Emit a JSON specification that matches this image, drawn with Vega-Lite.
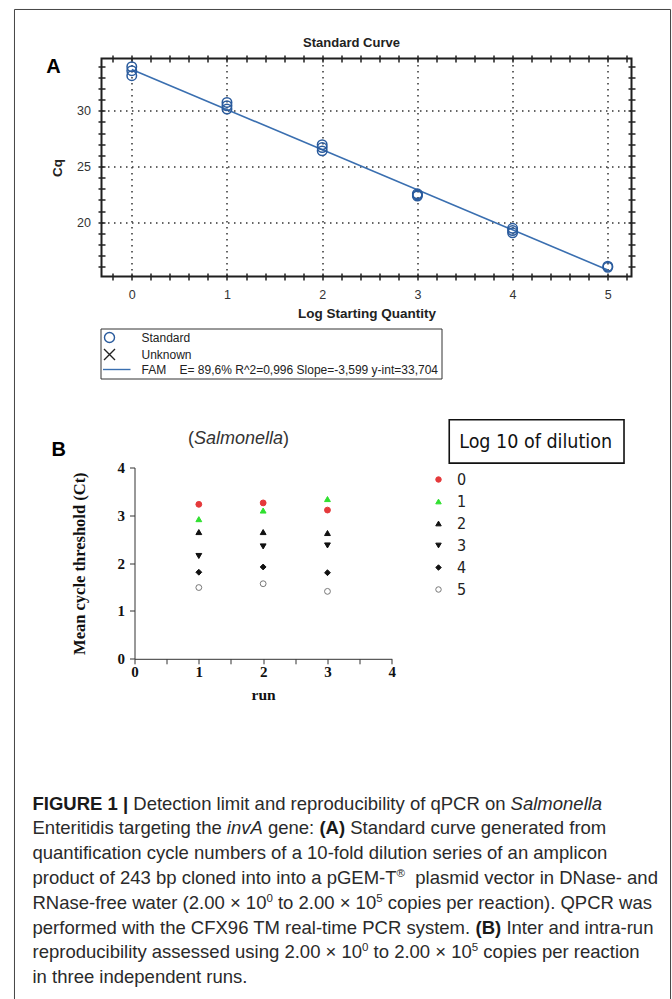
{
  "$schema": "https://vega.github.io/schema/vega-lite/v6.json",
  "background": "white",
  "padding": {"left": 12.5, "top": 7.5, "right": 2.5, "bottom": 0},
  "autosize": {"type": "pad"},
  "config": {"view": {"stroke": null}},
  "datasets": {
    "standards": [
      {"lsq": 0, "cq": 33.95, "series": "Standard"},
      {"lsq": 0, "cq": 33.6, "series": "Standard"},
      {"lsq": 0, "cq": 33.15, "series": "Standard"},
      {"lsq": 1, "cq": 30.75, "series": "Standard"},
      {"lsq": 1, "cq": 30.45, "series": "Standard"},
      {"lsq": 1, "cq": 30.15, "series": "Standard"},
      {"lsq": 2, "cq": 26.95, "series": "Standard"},
      {"lsq": 2, "cq": 26.7, "series": "Standard"},
      {"lsq": 2, "cq": 26.4, "series": "Standard"},
      {"lsq": 3, "cq": 22.55, "series": "Standard"},
      {"lsq": 3, "cq": 22.45, "series": "Standard"},
      {"lsq": 3, "cq": 22.35, "series": "Standard"},
      {"lsq": 4, "cq": 19.45, "series": "Standard"},
      {"lsq": 4, "cq": 19.25, "series": "Standard"},
      {"lsq": 4, "cq": 19.05, "series": "Standard"},
      {"lsq": 5, "cq": 16.05, "series": "Standard"},
      {"lsq": 5, "cq": 15.95, "series": "Standard"}
    ],
    "fit": [
      {"lsq": 0, "cq": 33.704},
      {"lsq": 5, "cq": 15.709}
    ],
    "runs": [
      {"run": 1, "dilution": "0", "ct": 3.23},
      {"run": 1, "dilution": "1", "ct": 2.92},
      {"run": 1, "dilution": "2", "ct": 2.65},
      {"run": 1, "dilution": "3", "ct": 2.15},
      {"run": 1, "dilution": "4", "ct": 1.81},
      {"run": 1, "dilution": "5", "ct": 1.49},
      {"run": 2, "dilution": "0", "ct": 3.26},
      {"run": 2, "dilution": "1", "ct": 3.1},
      {"run": 2, "dilution": "2", "ct": 2.65},
      {"run": 2, "dilution": "3", "ct": 2.35},
      {"run": 2, "dilution": "4", "ct": 1.92},
      {"run": 2, "dilution": "5", "ct": 1.57},
      {"run": 3, "dilution": "0", "ct": 3.11},
      {"run": 3, "dilution": "1", "ct": 3.34},
      {"run": 3, "dilution": "2", "ct": 2.63},
      {"run": 3, "dilution": "3", "ct": 2.37},
      {"run": 3, "dilution": "4", "ct": 1.8},
      {"run": 3, "dilution": "5", "ct": 1.41}
    ],
    "caption": [
      {"line": 1, "at": 0, "kind": "b", "text": "FIGURE 1 |"},
      {"line": 1, "at": 5.448, "kind": "r", "text": "Detection limit and reproducibility of qPCR on"},
      {"line": 1, "at": 25.844, "kind": "i", "text": "Salmonella"},
      {"line": 2, "at": 0, "kind": "r", "text": "Enteritidis targeting the"},
      {"line": 2, "at": 10.505, "kind": "i", "text": "invA"},
      {"line": 2, "at": 12.728, "kind": "r", "text": "gene:"},
      {"line": 2, "at": 15.508, "kind": "b", "text": "(A)"},
      {"line": 2, "at": 17.174, "kind": "r", "text": "Standard curve generated from"},
      {"line": 3, "at": 0, "kind": "r", "text": "quantification cycle numbers of a 10-fold dilution series of an amplicon"},
      {"line": 4, "at": 0, "kind": "r", "text": "product of 243 bp cloned into into a pGEM-T"},
      {"line": 4, "at": 19.677, "kind": "s", "text": "®"},
      {"line": 4, "at": 20.69, "kind": "r", "text": "plasmid vector in DNase- and"},
      {"line": 5, "at": 0, "kind": "r", "text": "RNase-free water (2.00 × 10"},
      {"line": 5, "at": 12.644, "kind": "s", "text": "0"},
      {"line": 5, "at": 13.267, "kind": "r", "text": "to 2.00 × 10"},
      {"line": 5, "at": 18.577, "kind": "s", "text": "5"},
      {"line": 5, "at": 19.2, "kind": "r", "text": "copies per reaction). QPCR was"},
      {"line": 6, "at": 0, "kind": "r", "text": "performed with the CFX96 TM real-time PCR system."},
      {"line": 6, "at": 23.95, "kind": "b", "text": "(B)"},
      {"line": 6, "at": 25.616, "kind": "r", "text": "Inter and intra-run"},
      {"line": 7, "at": 0, "kind": "r", "text": "reproducibility assessed using 2.00 × 10"},
      {"line": 7, "at": 17.814, "kind": "s", "text": "0"},
      {"line": 7, "at": 18.437, "kind": "r", "text": "to 2.00 × 10"},
      {"line": 7, "at": 23.747, "kind": "s", "text": "5"},
      {"line": 7, "at": 24.37, "kind": "r", "text": "copies per reaction"},
      {"line": 8, "at": 0, "kind": "r", "text": "in three independent runs."}
    ]
  },
  "concat": [
    {"width": 69, "height": 409, "data": {"values": []}, "mark": "point"},
    {
      "width": 530,
      "height": 218,
      "view": {"stroke": "#1f1f1f", "strokeWidth": 2},
      "resolve": {"axis": {"x": "independent", "y": "independent"}},
      "layer": [
        {
          "data": {"name": "fit"},
          "mark": {"type": "line", "color": "#3a6fb0", "strokeWidth": 1.6},
          "encoding": {
            "x": {
              "field": "lsq", "type": "quantitative",
              "scale": {"domain": [-0.318, 5.249], "nice": false, "zero": false},
              "axis": {
                "orient": "bottom",
                "values": [-0.2, 0, 0.2, 0.4, 0.6, 0.8, 1, 1.2, 1.4, 1.6, 1.8, 2, 2.2, 2.4, 2.6, 2.8, 3, 3.2, 3.4, 3.6, 3.8, 4, 4.2, 4.4, 4.6, 4.8, 5, 5.2],
                "labelExpr": "abs(datum.value - round(datum.value)) < 0.001 ? format(datum.value, 'd') : ''",
                "labelFlush": false, "labelOverlap": false,
                "labelFont": "Liberation Sans", "labelFontSize": 12.5, "labelColor": "#333", "labelPadding": 8,
                "domain": false, "ticks": true, "tickSize": 7, "tickWidth": 1.5, "tickColor": "#222", "offset": -3.5,
                "grid": true, "gridColor": "#333", "gridWidth": 1.5, "gridDash": [1.5, 4.5],
                "gridOpacity": {"condition": {"test": "abs(datum.value - round(datum.value)) < 0.001", "value": 1}, "value": 0},
                "title": "Log Starting Quantity", "titleFont": "Liberation Sans", "titleFontSize": 13.5, "titleFontWeight": "bold", "titleColor": "#222", "titlePadding": 6,
                "zindex": 0
              }
            },
            "y": {
              "field": "cq", "type": "quantitative",
              "scale": {"domain": [15.125, 34.69], "nice": false, "zero": false},
              "axis": {
                "orient": "left",
                "values": [16, 17, 18, 19, 20, 21, 22, 23, 24, 25, 26, 27, 28, 29, 30, 31, 32, 33, 34],
                "labelExpr": "datum.value % 5 == 0 ? format(datum.value, 'd') : ''",
                "labelFlush": false, "labelOverlap": false,
                "labelFont": "Liberation Sans", "labelFontSize": 12.5, "labelColor": "#333", "labelPadding": 7.5,
                "domain": false, "ticks": true, "tickSize": 7, "tickWidth": 1.5, "tickColor": "#222", "offset": -3.5,
                "grid": true, "gridColor": "#333", "gridWidth": 1.5, "gridDash": [1.5, 4.5],
                "gridOpacity": {"condition": {"test": "datum.value % 5 == 0", "value": 1}, "value": 0},
                "title": "Cq", "titleFont": "Liberation Sans", "titleFontSize": 13.5, "titleFontWeight": "bold", "titleColor": "#222", "titlePadding": 12,
                "zindex": 0
              }
            }
          }
        },
        {
          "data": {"name": "standards"},
          "mark": {"type": "point", "filled": false, "strokeWidth": 1.5, "size": 90, "opacity": 1},
          "encoding": {
            "x": {
              "field": "lsq", "type": "quantitative",
              "scale": {"domain": [-0.318, 5.249], "nice": false, "zero": false},
              "axis": {
                "orient": "top",
                "values": [-0.2, 0, 0.2, 0.4, 0.6, 0.8, 1, 1.2, 1.4, 1.6, 1.8, 2, 2.2, 2.4, 2.6, 2.8, 3, 3.2, 3.4, 3.6, 3.8, 4, 4.2, 4.4, 4.6, 4.8, 5, 5.2],
                "labels": false, "domain": false, "grid": false, "tickSize": 7, "tickWidth": 1.5, "tickColor": "#222", "offset": -3.5, "title": null
              }
            },
            "y": {
              "field": "cq", "type": "quantitative",
              "scale": {"domain": [15.125, 34.69], "nice": false, "zero": false},
              "axis": {
                "orient": "right",
                "values": [16, 17, 18, 19, 20, 21, 22, 23, 24, 25, 26, 27, 28, 29, 30, 31, 32, 33, 34],
                "labels": false, "domain": false, "grid": false, "tickSize": 7, "tickWidth": 1.5, "tickColor": "#222", "offset": -3.5, "title": null
              }
            },
            "shape": {
              "field": "series", "type": "nominal",
              "scale": {
                "domain": ["Standard", "Unknown", "FAM\u00a0\u00a0\u00a0\u00a0E= 89,6% R^2=0,996 Slope=-3,599 y-int=33,704"],
                "range": ["circle", "M-1.1,-1.1L1.1,1.1M-1.1,1.1L1.1,-1.1", "M-1.3,0L4.2,0"]
              },
              "legend": {
                "orient": "none", "legendX": -1, "legendY": 270, "title": null, "direction": "vertical",
                "strokeColor": "#333", "fillColor": "#ffffff", "padding": 3,
                "symbolSize": 100, "symbolStrokeWidth": 1.4,
                "labelFont": "Liberation Sans", "labelFontSize": 12, "labelColor": "#222", "labelOffset": 26, "labelLimit": 400,
                "rowPadding": 0
              }
            },
            "color": {
              "field": "series", "type": "nominal",
              "scale": {
                "domain": ["Standard", "Unknown", "FAM\u00a0\u00a0\u00a0\u00a0E= 89,6% R^2=0,996 Slope=-3,599 y-int=33,704"],
                "range": ["#2a5b9d", "#222222", "#3a6fb0"]
              },
              "legend": {
                "orient": "none", "legendX": -1, "legendY": 270, "title": null, "direction": "vertical",
                "strokeColor": "#333", "fillColor": "#ffffff", "padding": 3,
                "symbolSize": 100, "symbolStrokeWidth": 1.4,
                "labelFont": "Liberation Sans", "labelFontSize": 12, "labelColor": "#222", "labelOffset": 26, "labelLimit": 400,
                "rowPadding": 0
              }
            }
          }
        },
        {
          "data": {"values": [{"label": "A"}]},
          "mark": {"type": "text", "font": "Liberation Sans", "fontSize": 20, "fontWeight": "bold", "color": "#000", "align": "center", "baseline": "middle"},
          "encoding": {
            "x": {"datum": -0.822, "type": "quantitative", "scale": {"domain": [-0.318, 5.249], "nice": false, "zero": false}, "axis": null},
            "y": {"datum": 33.97, "type": "quantitative", "scale": {"domain": [15.125, 34.69], "nice": false, "zero": false}, "axis": null},
            "text": {"field": "label"}
          }
        },
        {
          "data": {"values": [{"label": "Standard Curve"}]},
          "mark": {"type": "text", "font": "Liberation Sans", "fontSize": 13, "fontWeight": "bold", "color": "#222", "align": "center", "baseline": "middle"},
          "encoding": {
            "x": {"datum": 2.308, "type": "quantitative", "scale": {"domain": [-0.318, 5.249], "nice": false, "zero": false}, "axis": null},
            "y": {"datum": 36.04, "type": "quantitative", "scale": {"domain": [15.125, 34.69], "nice": false, "zero": false}, "axis": null},
            "text": {"field": "label"}
          }
        },
        {
          "data": {"values": [{}]},
          "mark": {"type": "rect", "filled": false, "color": "#444", "strokeWidth": 1},
          "encoding": {
            "x": {"datum": -1.232, "type": "quantitative", "scale": {"domain": [-0.318, 5.249], "nice": false, "zero": false}, "axis": null},
            "x2": {"datum": 5.659},
            "y": {"datum": 39.09, "type": "quantitative", "scale": {"domain": [15.125, 34.69], "nice": false, "zero": false}, "axis": null},
            "y2": {"datum": -50.85}
          }
        }
      ]
    },
    {"width": 69, "height": 342, "data": {"values": []}, "mark": "point"},
    {
      "hconcat": [
        {"width": 32.7, "height": 1, "data": {"values": []}, "mark": "point"},
        {
          "width": 257.3,
          "height": 191.3,
          "resolve": {"axis": {"x": "independent", "y": "independent"}},
          "layer": [
            {
              "data": {"name": "runs"},
              "mark": {"type": "point", "filled": true, "size": 34, "strokeWidth": 1, "opacity": 1},
              "encoding": {
                "x": {
                  "field": "run", "type": "quantitative",
                  "scale": {"domain": [0, 4], "nice": false, "zero": false},
                  "axis": {
                    "orient": "bottom",
                    "values": [0, 0.5, 1, 1.5, 2, 2.5, 3, 3.5, 4],
                    "labelExpr": "datum.value % 1 == 0 ? format(datum.value, 'd') : ''",
                    "labelFlush": false, "labelOverlap": false,
                    "domainColor": "#333", "domainWidth": 1, "tickColor": "#333", "tickWidth": 1, "tickSize": 5,
                    "labelFont": "Liberation Serif", "labelFontSize": 15, "labelFontWeight": "bold", "labelColor": "#111", "labelPadding": 1,
                    "grid": false,
                    "title": "run", "titleFont": "Liberation Serif", "titleFontSize": 15.5, "titleFontWeight": "bold", "titleColor": "#111", "titlePadding": 8
                  }
                },
                "y": {
                  "field": "ct", "type": "quantitative",
                  "scale": {"domain": [0, 4], "nice": false, "zero": false},
                  "axis": {
                    "orient": "left",
                    "values": [0, 1, 2, 3, 4], "format": "d",
                    "labelFlush": false, "labelOverlap": false,
                    "domainColor": "#333", "domainWidth": 1, "tickColor": "#333", "tickWidth": 1, "tickSize": 5,
                    "labelFont": "Liberation Serif", "labelFontSize": 15, "labelFontWeight": "bold", "labelColor": "#111", "labelPadding": 5,
                    "grid": false,
                    "title": "Mean cycle threshold (Ct)", "titleFont": "Liberation Serif", "titleFontSize": 16.5, "titleFontWeight": "bold", "titleColor": "#111", "titlePadding": 30
                  }
                },
                "shape": {
                  "field": "dilution", "type": "nominal",
                  "scale": {"domain": ["0", "1", "2", "3", "4", "5"], "range": ["circle", "triangle-up", "triangle-up", "triangle-down", "diamond", "circle"]},
                  "legend": {
                    "orient": "none", "legendX": 329, "legendY": 4, "title": null, "padding": 0,
                    "symbolSize": 30, "symbolStrokeWidth": 1,
                    "labelFont": "Liberation Sans Narrow, DejaVu Sans Condensed, sans-serif", "labelFontSize": 16, "labelColor": "#222", "labelOffset": 10.5,
                    "rowPadding": 6
                  }
                },
                "fill": {
                  "field": "dilution", "type": "nominal",
                  "scale": {"domain": ["0", "1", "2", "3", "4", "5"], "range": ["#e5393b", "#2fe02f", "#111111", "#111111", "#111111", "#ffffff"]},
                  "legend": {
                    "orient": "none", "legendX": 329, "legendY": 4, "title": null, "padding": 0,
                    "symbolSize": 30, "symbolStrokeWidth": 1,
                    "labelFont": "Liberation Sans Narrow, DejaVu Sans Condensed, sans-serif", "labelFontSize": 16, "labelColor": "#222", "labelOffset": 10.5,
                    "rowPadding": 6
                  }
                },
                "stroke": {
                  "field": "dilution", "type": "nominal",
                  "scale": {"domain": ["0", "1", "2", "3", "4", "5"], "range": ["#e5393b", "#2fe02f", "#111111", "#111111", "#111111", "#777777"]},
                  "legend": {
                    "orient": "none", "legendX": 329, "legendY": 4, "title": null, "padding": 0,
                    "symbolSize": 30, "symbolStrokeWidth": 1,
                    "labelFont": "Liberation Sans Narrow, DejaVu Sans Condensed, sans-serif", "labelFontSize": 16, "labelColor": "#222", "labelOffset": 10.5,
                    "rowPadding": 6
                  }
                }
              }
            },
            {
              "data": {"values": [{"label": "B"}]},
              "mark": {"type": "text", "font": "Liberation Sans", "fontSize": 20, "fontWeight": "bold", "color": "#000", "align": "center", "baseline": "middle"},
              "encoding": {
                "x": {"datum": -1.177, "type": "quantitative", "scale": {"domain": [0, 4], "nice": false, "zero": false}, "axis": null},
                "y": {"datum": 4.358, "type": "quantitative", "scale": {"domain": [0, 4], "nice": false, "zero": false}, "axis": null},
                "text": {"field": "label"}
              }
            },
            {
              "data": {"values": [{"label": "("}]},
              "mark": {"type": "text", "font": "Liberation Sans", "fontSize": 18, "color": "#333", "align": "right", "baseline": "middle"},
              "encoding": {
                "x": {"datum": 0.925, "type": "quantitative", "scale": {"domain": [0, 4], "nice": false, "zero": false}, "axis": null},
                "y": {"datum": 4.588, "type": "quantitative", "scale": {"domain": [0, 4], "nice": false, "zero": false}, "axis": null},
                "text": {"field": "label"}
              }
            },
            {
              "data": {"values": [{"label": "Salmonella"}]},
              "mark": {"type": "text", "font": "Liberation Sans", "fontSize": 18, "fontStyle": "italic", "color": "#333", "align": "center", "baseline": "middle"},
              "encoding": {
                "x": {"datum": 1.617, "type": "quantitative", "scale": {"domain": [0, 4], "nice": false, "zero": false}, "axis": null},
                "y": {"datum": 4.588, "type": "quantitative", "scale": {"domain": [0, 4], "nice": false, "zero": false}, "axis": null},
                "text": {"field": "label"}
              }
            },
            {
              "data": {"values": [{"label": ")"}]},
              "mark": {"type": "text", "font": "Liberation Sans", "fontSize": 18, "color": "#333", "align": "left", "baseline": "middle"},
              "encoding": {
                "x": {"datum": 2.309, "type": "quantitative", "scale": {"domain": [0, 4], "nice": false, "zero": false}, "axis": null},
                "y": {"datum": 4.588, "type": "quantitative", "scale": {"domain": [0, 4], "nice": false, "zero": false}, "axis": null},
                "text": {"field": "label"}
              }
            },
            {
              "data": {"values": [{}]},
              "mark": {"type": "rect", "filled": false, "color": "#111", "strokeWidth": 1.6},
              "encoding": {
                "x": {"datum": 4.893, "type": "quantitative", "scale": {"domain": [0, 4], "nice": false, "zero": false}, "axis": null},
                "x2": {"datum": 7.61},
                "y": {"datum": 5.0, "type": "quantitative", "scale": {"domain": [0, 4], "nice": false, "zero": false}, "axis": null},
                "y2": {"datum": 4.092}
              }
            },
            {
              "data": {"values": [{"label": "Log 10 of dilution"}]},
              "mark": {"type": "text", "font": "Liberation Sans Narrow, DejaVu Sans Condensed, sans-serif", "fontSize": 19.5, "color": "#111", "align": "left", "baseline": "middle"},
              "encoding": {
                "x": {"datum": 5.048, "type": "quantitative", "scale": {"domain": [0, 4], "nice": false, "zero": false}, "axis": null},
                "y": {"datum": 4.536, "type": "quantitative", "scale": {"domain": [0, 4], "nice": false, "zero": false}, "axis": null},
                "text": {"field": "label"}
              }
            }
          ]
        }
      ],
      "spacing": 0,
      "bounds": "flush"
    },
    {
      "vconcat": [
        {
          "width": 630,
          "height": 173.6,
          "data": {"name": "caption"},
          "encoding": {
            "x": {"field": "at", "type": "quantitative", "scale": {"domain": [0, 34.054], "nice": false, "zero": false}, "axis": null},
            "y": {"field": "line", "type": "quantitative", "scale": {"domain": [1, 8], "reverse": true, "nice": false, "zero": false}, "axis": null},
            "text": {"field": "text"}
          },
          "layer": [
            {"transform": [{"filter": "datum.kind == 'r'"}], "mark": {"type": "text", "align": "left", "baseline": "alphabetic", "font": "Liberation Sans", "fontSize": 18.5, "color": "#2a2a2a"}},
            {"transform": [{"filter": "datum.kind == 'b'"}], "mark": {"type": "text", "align": "left", "baseline": "alphabetic", "font": "Liberation Sans", "fontSize": 18.5, "fontWeight": "bold", "color": "#1a1a1a"}},
            {"transform": [{"filter": "datum.kind == 'i'"}], "mark": {"type": "text", "align": "left", "baseline": "alphabetic", "font": "Liberation Sans", "fontSize": 18.5, "fontStyle": "italic", "color": "#2a2a2a"}},
            {"transform": [{"filter": "datum.kind == 's'"}], "mark": {"type": "text", "align": "left", "baseline": "alphabetic", "font": "Liberation Sans", "fontSize": 11.5, "dy": -7, "color": "#2a2a2a"}}
          ]
        }
      ],
      "bounds": "flush"
    }
  ],
  "columns": 2,
  "align": {"row": "each", "column": "each"},
  "spacing": {"row": 0, "column": 0},
  "bounds": "flush",
  "resolve": {
    "scale": {"shape": "independent", "color": "independent", "fill": "independent", "stroke": "independent"},
    "legend": {"shape": "independent", "color": "independent", "fill": "independent", "stroke": "independent"}
  }
}
